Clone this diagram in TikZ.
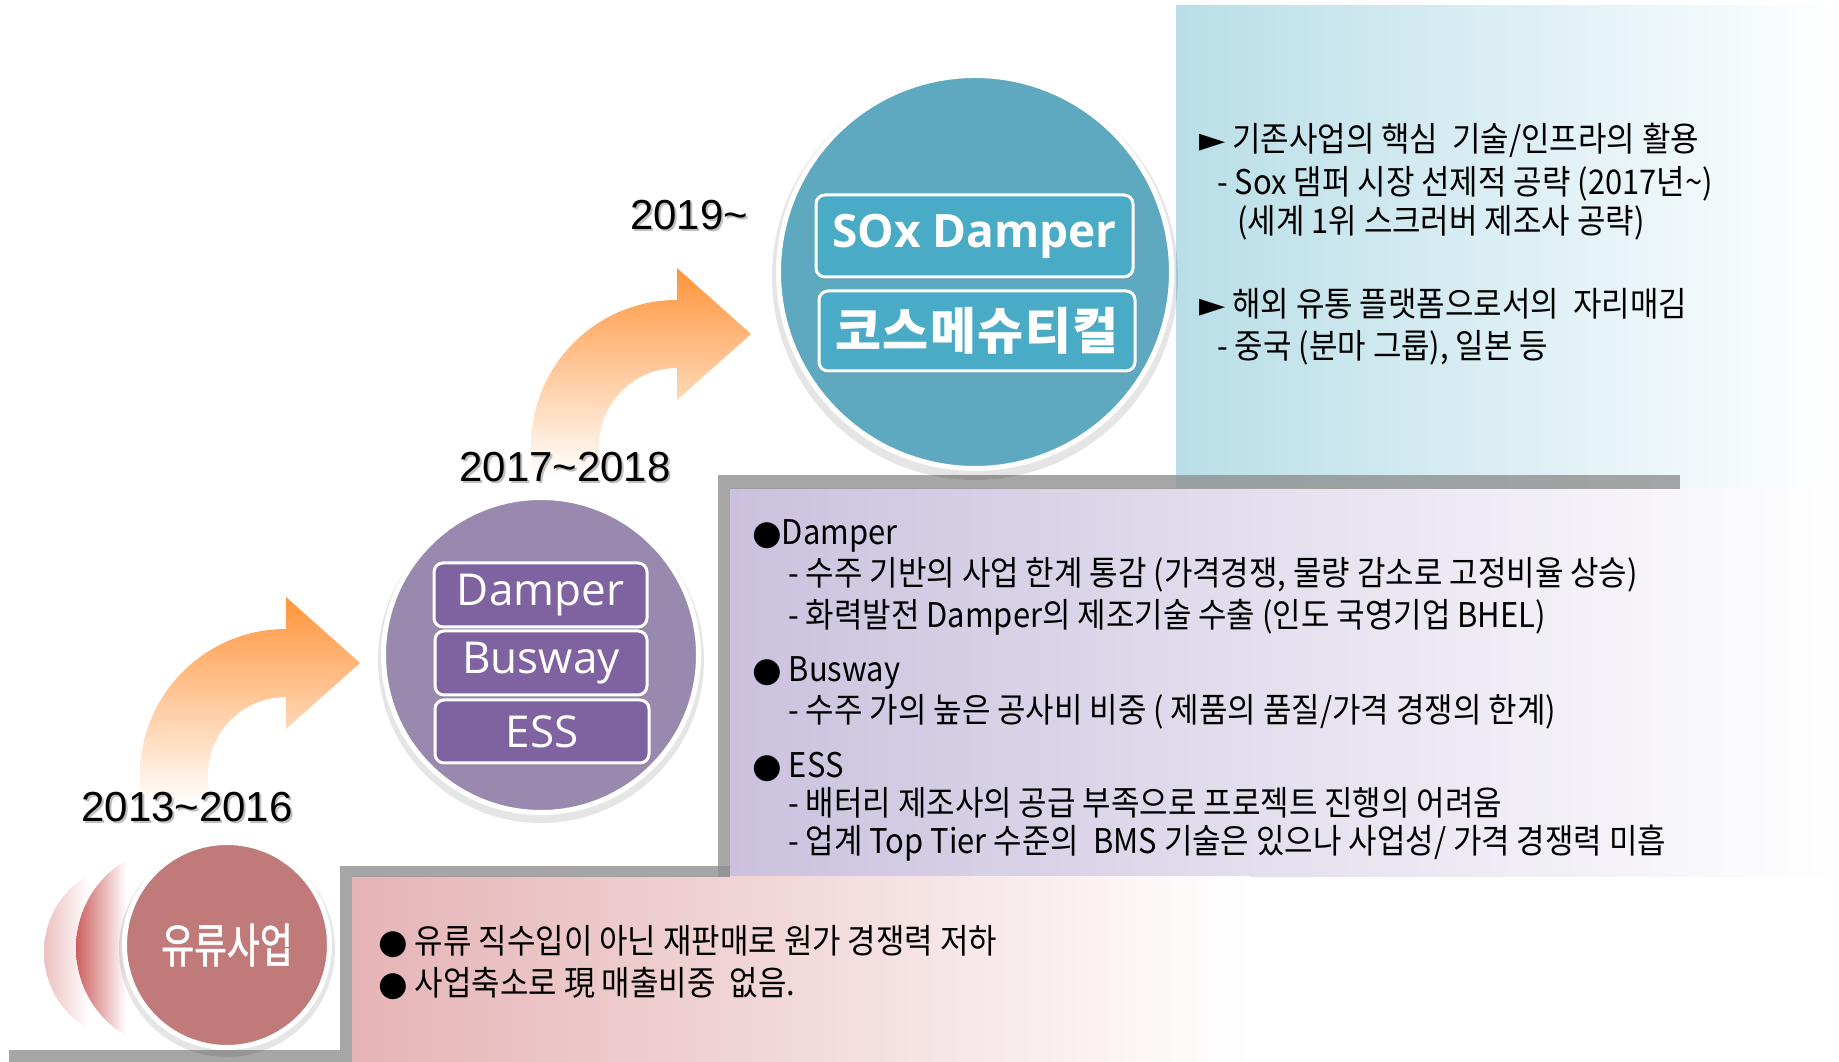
\documentclass[tikz,border=0pt]{standalone}
\usepackage{fontspec}
\setmainfont{Liberation Sans}
\newfontfamily\kr[FakeStretch=0.91]{Noto Sans CJK KR}
\newfontfamily\krb{Noto Sans CJK KR}
\newfontfamily\krn[FakeStretch=0.76,FakeBold=1.2]{Noto Sans CJK KR}
\newfontfamily\osans{Open Sans}
\newfontfamily\djv{DejaVu Sans}
\usetikzlibrary{shadows}
\definecolor{bluebox}{RGB}{185,222,232}
\definecolor{lavbox}{RGB}{203,193,222}
\definecolor{pinkbox}{RGB}{230,180,182}
\definecolor{bargray}{RGB}{144,144,144}
\definecolor{redc}{RGB}{192,122,122}
\definecolor{purc}{RGB}{153,137,175}
\definecolor{tealc}{RGB}{94,169,192}
\definecolor{purbox}{RGB}{127,99,160}
\definecolor{tealbox}{RGB}{74,171,198}
\definecolor{orgA}{RGB}{255,148,58}
\definecolor{cresA}{RGB}{236,192,192}
\definecolor{cresB}{RGB}{205,95,95}
\pgfdeclarehorizontalshading{crescA}{100bp}{color(0bp)=(cresA); color(25bp)=(cresA); color(38bp)=(white); color(100bp)=(white)}
\pgfdeclarehorizontalshading{crescB}{100bp}{color(0bp)=(cresB); color(25bp)=(cresB); color(38bp)=(white); color(100bp)=(white)}
\newcommand\orgarrow[2]{%
  \shade[top color=orgA, bottom color=white]
    (#1-146,#2-30) -- (#1-146,#2) arc[start angle=180,end angle=90,radius=146]
    -- (#1,#2+178) -- (#1+74,#2+112) -- (#1,#2+46) -- (#1,#2+78)
    arc[start angle=90,end angle=180,radius=78] -- (#1-78,#2-30) -- cycle;}
\tikzset{
  bar/.style={fill=bargray, fill opacity=0.8, draw=none},
  bigcircle/.style={circle, draw=white, line width=5pt, inner sep=0pt},
  innerbox/.style={rounded corners=9pt, draw=white, line width=3pt, text=white,
    inner sep=0pt, drop shadow={opacity=0.25, shadow xshift=1pt, shadow yshift=-3pt}},
  datelbl/.style={font=\fontsize{42}{48}\selectfont, inner sep=0pt},
  datesh/.style={datelbl, text=black!25},
  ptext/.style={anchor=base west, inner sep=0pt, font=\kr\fontsize{34}{40}\selectfont}
}
\begin{document}
\begin{tikzpicture}[x=1pt,y=1pt]
\useasboundingbox (0,0) rectangle (1839,1062);
% panels
\shade[left color=bluebox, right color=white] (1176,573) rectangle (1839,1056);
\shade[left color=lavbox, right color=white] (730,185) rectangle (1839,573);
\shade[left color=pinkbox, right color=white] (352,0) rectangle (1250,185);
% steps
\fill[bar] (718,573) rectangle (1680,587);
\fill[bar] (718,185) rectangle (730,573);
\fill[bar] (340,185) rectangle (730,196);
\fill[bar] (340,0) rectangle (352,185);
\fill[bar] (9,0) rectangle (340,12);
% arrows
\orgarrow{286}{287}
\orgarrow{677}{616}
% date labels
\node[datesh] (d1s) at (189,253) {2013\textasciitilde 2016};
\node[datelbl] (d1) at (187,255) {2013\textasciitilde 2016};
\node[datesh] (d2s) at (567,593) {2017\textasciitilde 2018};
\node[datelbl] (d2) at (565,595) {2017\textasciitilde 2018};
\node[datesh] (d3s) at (691,845) {2019\textasciitilde};
\node[datelbl] (d3) at (689,847) {2019\textasciitilde};
% crescents
\shade[shading=crescA] (130,110) ellipse[x radius=86, y radius=88];
\shade[shading=crescB] (173,114) ellipse[x radius=97, y radius=100];
% circles
\fill[black, opacity=0.10] (227,113) circle (108);
\node[bigcircle, fill=redc, minimum size=205pt, text=white, font=\krn\fontsize{47}{52}\selectfont] (c1) at (227,117) {유류사업};
\fill[black, opacity=0.10] (541,402) circle (163);
\node[bigcircle, fill=purc, minimum size=315pt] (c2) at (541,407) {};
\fill[black, opacity=0.10] (975,785) circle (203);
\node[bigcircle, fill=tealc, minimum size=393pt] (c3) at (975,790) {};
% inner boxes
\node[innerbox, fill=purbox, minimum width=213pt, minimum height=64pt, font=\osans\fontsize{44}{50}\selectfont] (b1) at (540.5,467) {Damper};
\node[innerbox, fill=purbox, minimum width=212pt, minimum height=64pt, font=\osans\fontsize{44}{50}\selectfont] (b2) at (541,399) {Busway};
\node[innerbox, fill=purbox, minimum width=214pt, minimum height=63pt, font=\osans\fontsize{44}{50}\selectfont] (b3) at (542,330.5) {ESS};
\node[innerbox, fill=tealbox, minimum width=317pt, minimum height=82pt, font=\osans\bfseries\fontsize{46}{52}\selectfont] (b4) at (974.5,826) {SOx Damper};
\node[innerbox, fill=tealbox, minimum width=316pt, minimum height=80pt, font=\krb\bfseries\fontsize{50}{56}\selectfont\addfontfeature{LetterSpace=3}] (b5) at (977,731) {코스메슈티컬};
% top right text
\node[ptext] (t1) at (1199,910) {{\djv ►} 기존사업의 핵심~ 기술/인프라의 활용};
\node[ptext] (t2) at (1217,867) {- Sox 댐퍼 시장 선제적 공략 (2017년\textasciitilde)};
\node[ptext] (t3) at (1237,828) {(세계 1위 스크러버 제조사 공략)};
\node[ptext] (t4) at (1199,745) {{\djv ►} 해외 유통 플랫폼으로서의~ 자리매김};
\node[ptext] (t5) at (1217,703) {- 중국 (분마 그룹), 일본 등};
% middle text
\node[ptext] (m1) at (752,517) {{\djv ●}Damper};
\node[ptext] (m2) at (788,476) {- 수주 기반의 사업 한계 통감 (가격경쟁, 물량 감소로 고정비율 상승)};
\node[ptext] (m3) at (788,434) {- 화력발전 Damper의 제조기술 수출 (인도 국영기업 BHEL)};
\node[ptext] (m4) at (752,380) {{\djv ●} Busway};
\node[ptext] (m5) at (788,339) {- 수주 가의 높은 공사비 비중 ( 제품의 품질/가격 경쟁의 한계)};
\node[ptext] (m6) at (752,284) {{\djv ●} ESS};
\node[ptext] (m7) at (788,246) {- 배터리 제조사의 공급 부족으로 프로젝트 진행의 어려움};
\node[ptext] (m8) at (788,208) {- 업계 Top Tier 수준의~ BMS 기술은 있으나 사업성/ 가격 경쟁력 미흡};
% bottom text
\node[ptext] (l1) at (378,108) {{\djv ●} 유류 직수입이 아닌 재판매로 원가 경쟁력 저하};
\node[ptext] (l2) at (378,66) {{\djv ●} 사업축소로 現 매출비중~ 없음.};
\end{tikzpicture}
\end{document}
